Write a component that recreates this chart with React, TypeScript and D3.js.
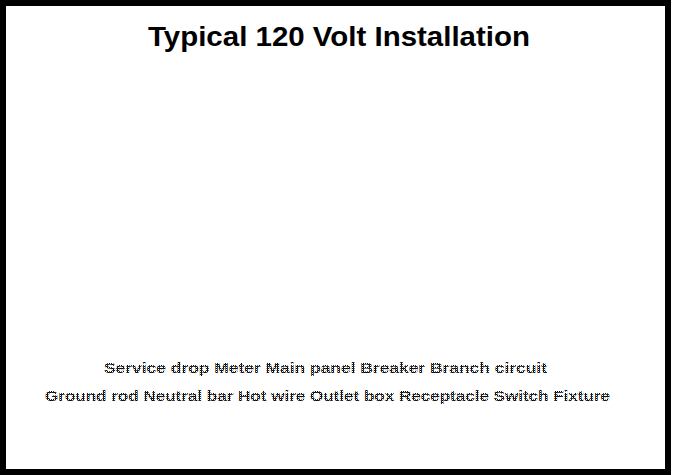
import { useRef, useEffect } from 'react';
import * as d3 from 'd3';

// chart texts
const title = 'Typical 120 Volt Installation';
// the two caption lines are unreadable in the source (dithered); placeholder wording
const captionLines = [
  'Service drop  Meter  Main panel  Breaker  Branch circuit',
  'Ground rod  Neutral bar  Hot wire  Outlet box  Receptacle  Switch  Fixture',
];
const captionX = [104, 45];
const captionW = [443, 565];

const W = 674;
const H = 475;

function App() {
  const ref = useRef<SVGSVGElement | null>(null);

  useEffect(() => {
    const svg = d3.select(ref.current);
    svg.selectAll('*').remove();

    const defs = svg.append('defs');
    const pat = defs
      .append('pattern')
      .attr('id', 'dither')
      .attr('width', 2)
      .attr('height', 2)
      .attr('patternUnits', 'userSpaceOnUse');
    pat.append('rect').attr('x', 0).attr('y', 0).attr('width', 1).attr('height', 1).attr('fill', '#000');
    pat.append('rect').attr('x', 1).attr('y', 1).attr('width', 1).attr('height', 1).attr('fill', '#000');
    pat.append('rect').attr('x', 1).attr('y', 0).attr('width', 1).attr('height', 1).attr('fill', '#222');

    svg.append('rect').attr('width', W).attr('height', H).attr('fill', '#fff');

    // frame
    svg
      .append('rect')
      .attr('x', 3)
      .attr('y', 3)
      .attr('width', W - 9)
      .attr('height', H - 6)
      .attr('fill', 'none')
      .attr('stroke', '#000')
      .attr('stroke-width', 6);

    svg
      .append('text')
      .attr('x', 148)
      .attr('y', 46)
      .attr('textLength', 382)
      .attr('lengthAdjust', 'spacingAndGlyphs')
      .attr('font-family', '"Liberation Sans", Arial, sans-serif')
      .attr('font-weight', 'bold')
      .attr('font-size', 28)
      .attr('fill', '#000')
      .text(title);

    const y = d3.scalePoint<number>().domain([0, 1]).range([373, 401]);

    captionLines.forEach((line, i) => {
      svg
        .append('text')
        .attr('x', captionX[i])
        .attr('y', y(i)!)
        .attr('textLength', captionW[i])
        .attr('lengthAdjust', 'spacingAndGlyphs')
        .attr('font-family', '"Liberation Sans", Arial, sans-serif')
        .attr('font-weight', 'bold')
        .attr('font-size', 15)
        .attr('fill', 'url(#dither)')
        .text(line);
    });
  }, []);

  return (
    <div style={{ position: 'fixed', left: 0, top: 0 }}>
      <svg ref={ref} width={W} height={H} style={{ display: 'block' }}></svg>
    </div>
  );
}

export default App;
